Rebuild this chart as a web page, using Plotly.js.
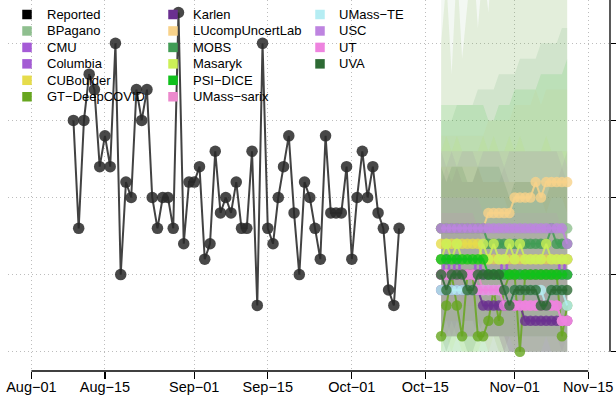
<!DOCTYPE html>
<html><head><meta charset="utf-8">
<script src="https://cdn.plot.ly/plotly-3.0.1.min.js"></script>
<style>html,body{margin:0;padding:0;background:#fff}#chart{width:616px;height:398px}</style>
</head><body><div id="chart"></div>
<script>
// ---------- data ----------
const reportedDates = ['2020-08-09','2020-08-10','2020-08-11','2020-08-12','2020-08-13','2020-08-14','2020-08-15','2020-08-16','2020-08-17','2020-08-18','2020-08-19','2020-08-20','2020-08-21','2020-08-22','2020-08-23','2020-08-24','2020-08-25','2020-08-26','2020-08-27','2020-08-28','2020-08-29','2020-08-30','2020-08-31',
'2020-09-01','2020-09-02','2020-09-03','2020-09-04','2020-09-05','2020-09-06','2020-09-07','2020-09-08','2020-09-09','2020-09-10','2020-09-11','2020-09-12','2020-09-13','2020-09-14','2020-09-15','2020-09-16','2020-09-17','2020-09-18','2020-09-19','2020-09-20','2020-09-21','2020-09-22','2020-09-23','2020-09-24','2020-09-25','2020-09-26','2020-09-27','2020-09-28','2020-09-29','2020-09-30',
'2020-10-01','2020-10-02','2020-10-03','2020-10-04','2020-10-05','2020-10-06','2020-10-07','2020-10-08','2020-10-09','2020-10-10'];
const reportedValues = [15,8,15,18,17,12,14,12,20,5,11,10,17,15,17,10,8,10,10,8,22,7,11,11,12,6,7,13,9,10,9,11,8,8,13,3,20,8,7,10,12,14,9,5,11,10,8,6,14,9,9,9,12,6,10,13,10,12,9,8,4,3,8];

const forecastDates = ['2020-10-18','2020-10-19','2020-10-20','2020-10-21','2020-10-22','2020-10-23','2020-10-24','2020-10-25','2020-10-26','2020-10-27','2020-10-28','2020-10-29','2020-10-30','2020-10-31','2020-11-01','2020-11-02','2020-11-03','2020-11-04','2020-11-05','2020-11-06','2020-11-07','2020-11-08','2020-11-09','2020-11-10','2020-11-11'];

const modelNames = ['BPagano','CMU','Columbia','CUBoulder','GT\u2212DeepCOVID','Karlen','LUcompUncertLab','MOBS','Masaryk','PSI\u2212DICE','UMass\u2212sarix','UMass\u2212TE','USC','UT','UVA'];
const modelColors = ['#8FBF8F','#A55BD6','#A45CD4','#E6DC4B','#67A61F','#6A2F90','#F8D28A','#419C55','#CCF057','#10C01C','#EC89CD','#B5EDF3','#BE84E0','#EE83DF','#2D6A34'];

// point forecasts
const ptBPagano   = [8,8,8,8,8,8,8,8,8,8,8,8,8,8,8,8,8,8,8,8,8,8,8,8,8];
const ptCMU       = [6,5,6,5,6,6,6,5,6,6,6,6,5,6,6,6,6,6,6,6,6,6,6,5,6];
const ptColumbia  = [5,6,5,6,5,5,5,6,5,5,5,5,6,5,5,5,5,5,5,5,5,5,5,6,5];
const ptCUBoulder = [7,7,7,7,7,7,7,7,6,6,6,6,6,6,6,6,6,6,6,6,6,6,6,6,6];
const ptGT        = [1,3,5,3,1,5,5,1,1,2,4,2,4,5,5,0,5,5,5,5,5,5,5,1,3];
const ptKarlen    = [4,4,4,4,4,4,4,4,3,3,3,3,3,3,3,3,2,2,2,2,2,2,2,2,2];
const ptLUcomp    = [8,8,8,8,8,8,8,8,8,9,9,9,9,9,10,10,10,10,11,10,11,11,11,11,11];
const ptMOBS      = [8,8,8,8,8,8,8,8,8,7,7,7,7,7,7,7,7,7,7,7,7,8,7,7,7];
const ptMasaryk   = [6,7,6,7,6,6,6,6,7,6,7,6,6,7,6,7,6,6,6,6,7,6,6,6,6];
const ptPSI       = [6,6,6,6,6,6,6,6,6,5,5,5,5,5,5,5,5,5,5,5,5,5,5,5,5];
const ptSarix     = [5,5,5,5,5,5,5,5,4,4,4,4,4,3,3,3,3,3,3,3,3,3,3,2,2];
const ptTE        = [4,4,4,4,4,4,4,4,4,4,4,4,4,3,4,4,4,4,4,4,3,4,4,4,3];
const ptUSC       = [8,8,8,8,8,8,8,8,8,8,8,8,8,8,8,8,8,8,8,8,8,8,8,8,7];
const ptUT        = [5,5,5,5,5,5,5,4,4,4,4,4,3,3,3,3,3,3,3,3,3,3,3,2,2];
const ptUVA       = [5,4,5,5,5,4,4,5,5,5,5,5,4,3,4,4,4,4,4,3,3,4,4,4,4];

// prediction intervals (lower / upper)
const loBPagano   = [1,1,1,1,1,1,1,1,1,1,1,0,0,0,0,0,0,0,0,0,0,0,0,0,0];
const hiBPagano   = [24,24,25,25,25,26,26,26,27,27,27,28,28,28,29,29,29,30,30,30,31,31,31,32,32];
const loCMU       = [2,1,2,1,2,2,2,1,2,1,1,1,0,1,1,1,1,1,1,1,1,1,1,0,1];
const hiCMU       = [13,12,13,12,13,13,13,12,13,13,13,13,12,13,13,13,13,13,13,13,13,13,13,12,13];
const loColumbia  = [1,2,1,2,1,1,1,2,1,1,1,1,1,0,0,0,0,0,0,0,0,0,0,0,0];
const hiColumbia  = [11,12,11,12,11,11,11,12,11,11,11,11,12,11,11,11,11,11,11,11,11,11,11,12,11];
const loCUBoulder = [2,2,2,2,2,2,2,2,1,1,1,1,1,1,1,1,1,1,1,1,1,1,1,1,1];
const hiCUBoulder = [12,12,12,12,12,12,12,12,11,11,11,11,11,11,11,11,11,11,11,11,11,11,11,11,11];
const loGT        = [0,0,0,0,0,0,0,0,0,0,0,0,0,0,0,0,0,0,0,0,0,0,0,0,0];
const hiGT        = [20,24,18,25,19,23,26,21,25,22,27,24,26,29,25,28,26,30,27,29,28,31,28,30,29];
const loKarlen    = [1,1,1,1,1,1,1,1,1,1,1,1,1,0,0,0,0,0,0,0,0,0,0,0,0];
const hiKarlen    = [8,8,8,8,8,8,8,8,7,7,7,7,7,7,7,7,6,6,6,6,6,6,6,6,6];
const loLUcomp    = [3,3,3,3,3,3,3,3,3,3,3,3,3,3,4,4,4,4,4,4,4,4,4,4,4];
const hiLUcomp    = [14,14,14,14,14,14,14,14,14,15,15,15,15,15,16,16,16,16,17,16,17,17,17,17,17];
const loMOBS      = [1,1,1,1,1,1,1,1,1,1,1,1,1,1,1,1,1,1,1,1,1,1,1,1,1];
const hiMOBS      = [15,15,15,16,16,16,16,17,17,17,17,18,18,18,18,19,19,19,19,20,20,20,20,21,21];
const loMasaryk   = [0,1,0,1,0,0,0,0,1,0,1,0,0,1,0,1,0,0,0,0,1,0,0,0,0];
const hiMasaryk   = [13,14,13,14,13,13,13,13,14,13,14,13,13,14,13,14,13,13,13,13,14,13,13,13,13];
const loPSI       = [0,0,0,0,0,0,0,0,0,0,0,0,0,0,0,0,0,0,0,0,0,0,0,0,0];
const hiPSI       = [16,16,16,16,16,16,16,16,16,15,15,16,16,16,17,17,17,17,17,18,18,18,18,18,19];
const loSarix     = [1,1,1,1,1,1,1,1,1,0,0,0,0,0,0,0,0,0,0,0,0,0,0,0,0];
const hiSarix     = [10,10,10,10,10,10,10,10,9,9,9,9,9,9,9,9,9,9,9,9,9,9,9,8,8];
const loTE        = [0,0,0,0,0,0,0,0,0,0,0,0,0,0,0,0,0,0,0,0,0,0,0,0,0];
const hiTE        = [10,10,10,10,10,10,10,10,10,10,10,10,10,9,10,10,10,10,10,10,9,10,10,10,9];
const loUSC       = [3,3,3,3,3,3,3,3,3,3,3,3,3,3,3,3,3,3,3,3,3,3,3,3,2];
const hiUSC       = [13,13,13,13,13,13,13,13,13,13,13,13,13,13,13,13,13,13,13,13,13,13,13,13,12];
const loUT        = [1,1,1,1,1,1,1,1,1,1,1,1,0,0,0,0,0,0,0,0,0,0,0,0,0];
const hiUT        = [9,9,9,9,9,9,9,8,8,8,8,8,8,8,8,8,8,8,8,8,8,8,8,7,7];
const loUVA       = [1,0,1,1,1,0,0,1,1,1,1,1,0,0,0,0,0,0,0,0,0,0,0,0,0];
const hiUVA       = [12,11,12,12,12,11,11,12,12,12,12,12,11,10,11,11,11,11,11,10,10,11,11,11,11];

const pointSeries = [ptBPagano,ptCMU,ptColumbia,ptCUBoulder,ptGT,ptKarlen,ptLUcomp,ptMOBS,ptMasaryk,ptPSI,ptSarix,ptTE,ptUSC,ptUT,ptUVA];
const lowerSeries = [loBPagano,loCMU,loColumbia,loCUBoulder,loGT,loKarlen,loLUcomp,loMOBS,loMasaryk,loPSI,loSarix,loTE,loUSC,loUT,loUVA];
const upperSeries = [hiBPagano,hiCMU,hiColumbia,hiCUBoulder,hiGT,hiKarlen,hiLUcomp,hiMOBS,hiMasaryk,hiPSI,hiSarix,hiTE,hiUSC,hiUT,hiUVA];

const tickDates = ['2020-08-01','2020-08-15','2020-09-01','2020-09-15','2020-10-01','2020-10-15','2020-11-01','2020-11-15'];
const tickLabels = ['Aug\u221201','Aug\u221215','Sep\u221201','Sep\u221215','Oct\u221201','Oct\u221215','Nov\u221201','Nov\u221215'];
const yTicks = [0,5,10,15,20,25];

// ---------- helpers ----------
function rgba(hex, a){
  const n = parseInt(hex.slice(1),16);
  return 'rgba('+((n>>16)&255)+','+((n>>8)&255)+','+(n&255)+','+a+')';
}

const traces = [];
// interval polygons
modelNames.forEach((name,i)=>{
  traces.push({
    type:'scatter', mode:'lines', name:name+' PI',
    x: forecastDates.concat(forecastDates.slice().reverse()),
    y: upperSeries[i].concat(lowerSeries[i].slice().reverse()),
    fill:'toself', fillcolor: rgba(modelColors[i],0.11),
    line:{width:0, color:'rgba(0,0,0,0)'}, hoverinfo:'skip', showlegend:false
  });
});
// point forecasts
modelNames.forEach((name,i)=>{
  traces.push({
    type:'scatter', mode:'lines+markers', name:name,
    x: forecastDates, y: pointSeries[i],
    line:{color: rgba(modelColors[i],0.85), width:2},
    marker:{size:10.5, color: rgba(modelColors[i],0.8)},
    showlegend:false
  });
});
// reported
traces.push({
  type:'scatter', mode:'lines+markers', name:'Reported',
  x: reportedDates, y: reportedValues,
  line:{color:'rgba(45,45,45,0.9)', width:2},
  marker:{size:11.5, color:'rgba(40,40,40,0.85)'},
  showlegend:false
});

// ---------- manual legend (3 columns) ----------
const L = 8, T = 0, W = 602, H = 371;
const legendItems = [['Reported','#000000']].concat(modelNames.map((n,i)=>[n, modelColors[i]]));
const colSq = [27, 173, 320], colTx = [44.5, 190.5, 337];
const row0 = 14.5, rowStep = 16.45, sq = 9.5;
const annotations = [], shapes = [];
legendItems.forEach((it,k)=>{
  const c = Math.floor(k/6), r = k%6;
  const cy = row0 + r*rowStep;
  annotations.push({xref:'paper', yref:'paper', x:(colTx[c]-L)/W, y:1-(cy-T)/H,
    xanchor:'left', yanchor:'middle', showarrow:false, text:it[0],
    font:{family:'Liberation Sans, Arial, sans-serif', size:13, color:'#000'}});
  shapes.push({type:'rect', xref:'paper', yref:'paper',
    x0:(colSq[c]-sq/2-L)/W, x1:(colSq[c]+sq/2-L)/W,
    y0:1-(cy+sq/2-T)/H, y1:1-(cy-sq/2-T)/H,
    fillcolor:it[1], line:{width:0}});
});
// axis lines spanning first to last tick (base-R style)
shapes.push({type:'line', xref:'x', yref:'paper', x0:tickDates[0], x1:tickDates[tickDates.length-1], y0:0, y1:0,
  line:{color:'#000', width:1.3}});
shapes.push({type:'line', xref:'paper', yref:'y', x0:1, x1:1, y0:yTicks[0], y1:yTicks[yTicks.length-1],
  line:{color:'#000', width:1.3}});

const layout = {
  width:616, height:398,
  margin:{l:8, r:6, t:0, b:27, pad:0},
  paper_bgcolor:'#ffffff', plot_bgcolor:'#ffffff',
  showlegend:false,
  font:{family:'Liberation Sans, Arial, sans-serif', color:'#000'},
  xaxis:{type:'date', range:['2020-07-27 13:05','2020-11-19 03:36'],
    tickmode:'array', tickvals:tickDates, ticktext:tickLabels,
    ticks:'outside', ticklen:7, tickwidth:1.3, tickcolor:'#000',
    ticklabelstandoff:-4,
    showgrid:true, gridcolor:'#bdbdbd', griddash:'1px,3px', gridwidth:1,
    zeroline:false, showline:false,
    tickfont:{family:'Liberation Sans, Arial, sans-serif', size:14.5, color:'#000'}},
  yaxis:{range:[-1.252,22.81], side:'right', tickmode:'array', tickvals:yTicks,
    ticks:'outside', ticklen:8, tickwidth:1.3, tickcolor:'#000', showticklabels:false,
    showgrid:true, gridcolor:'#bdbdbd', griddash:'1px,3px', gridwidth:1,
    zeroline:false, showline:false},
  shapes: shapes,
  annotations: annotations
};

Plotly.newPlot('chart', traces, layout, {displayModeBar:false, staticPlot:true});
</script></body></html>
